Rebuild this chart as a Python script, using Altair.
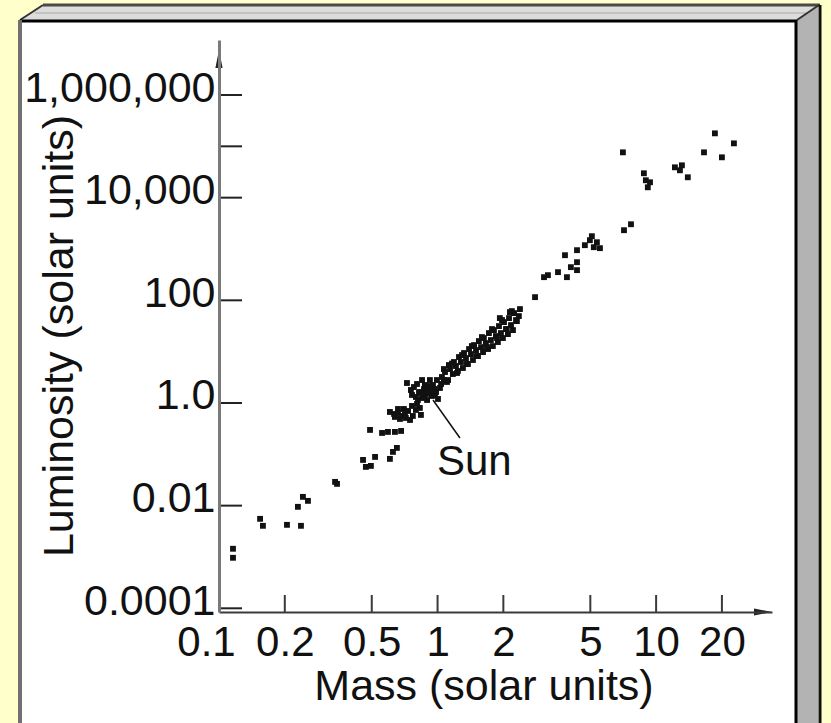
import altair as alt
import pandas as pd

FONT = "Liberation Sans"

# ---- star data: log10 mass (solar masses) and log10 luminosity (solar luminosities)
low_logm = [-0.936, -0.936, -0.812, -0.799, -0.689, -0.625, -0.639, -0.616, -0.593,
            -0.469, -0.460, -0.341, -0.328, -0.305, -0.286, -0.218, -0.204, -0.186,
            -0.309, -0.254, -0.227, -0.195, -0.167]
low_logl = [-2.840, -3.016, -2.257, -2.393, -2.374, -2.393, -2.023, -1.829, -1.907,
            -1.537, -1.576, -1.109, -1.245, -1.226, -1.051, -1.089, -0.953, -0.875,
            -0.525, -0.584, -0.564, -0.564, -0.545]

kdwarf_logm = [-0.218, -0.199, -0.181, -0.163, -0.145, -0.126, -0.113, -0.135, -0.099,
               -0.081, -0.181, -0.154, -0.076,
               -0.195, -0.172, -0.149, -0.117, -0.094]
kdwarf_logl = [-0.175, -0.214, -0.195, -0.253, -0.292, -0.331, -0.253, -0.156, -0.136,
               -0.097, -0.117, -0.117, -0.233,
               -0.272, -0.311, -0.195, -0.058, -0.019]

solar_logm = [-0.140, -0.122, -0.099, -0.081, -0.062, -0.044, -0.026, -0.007, -0.048,
              -0.021, 0.002, -0.058, -0.108, 0.011, -0.035, -0.003,
              -0.090, -0.071, -0.053, -0.035, -0.016, -0.035, -0.062, -0.085, -0.117,
              -0.012, 0.016, 0.029, -0.071, -0.094]
solar_logl = [0.389, 0.253, 0.117, 0.214, 0.156, 0.272, 0.136, 0.214, 0.058,
              0.350, 0.078, 0.350, 0.311, 0.292, 0.447, 0.447,
              0.058, 0.097, 0.175, 0.214, 0.272, 0.331, 0.272, 0.195, 0.156,
              0.156, 0.370, 0.447, 0.447, 0.370]

band_logm = [0.020, 0.034, 0.048, 0.057, 0.070, 0.084, 0.093, 0.107, 0.116, 0.130,
             0.139, 0.153, 0.162, 0.176, 0.185, 0.199, 0.208, 0.221, 0.231, 0.244,
             0.253, 0.267, 0.276, 0.290, 0.299, 0.313, 0.322, 0.336, 0.345, 0.359,
             0.372, 0.350, 0.327, 0.304, 0.281, 0.258, 0.235, 0.212, 0.189, 0.167,
             0.144, 0.121, 0.098, 0.075, 0.052, 0.029, 0.377, 0.331, 0.285,
             0.043, 0.089, 0.134, 0.180, 0.226, 0.272, 0.317, 0.363,
             0.066, 0.112, 0.157, 0.203, 0.249, 0.295, 0.340]
band_logl = [0.506, 0.603, 0.447, 0.661, 0.564, 0.720, 0.623, 0.798, 0.681, 0.875,
             0.759, 0.953, 0.837, 1.031, 0.914, 1.089, 0.992, 1.167, 1.051, 1.226,
             1.109, 1.304, 1.187, 1.362, 1.265, 1.440, 1.342, 1.518, 1.420, 1.615,
             1.693, 1.751, 1.654, 1.576, 1.498, 1.420, 1.362, 1.265, 1.206, 1.128,
             1.051, 0.973, 0.895, 0.798, 0.739, 0.661, 1.829, 1.770, 1.654,
             0.409, 0.584, 0.759, 0.914, 1.089, 1.265, 1.440, 1.595,
             0.768, 0.934, 1.109, 1.284, 1.440, 1.615, 1.790]

bright_logm = [0.446, 0.487, 0.505, 0.551, 0.583, 0.592, 0.610, 0.638, 0.638, 0.638,
               0.674, 0.697, 0.715, 0.743, 0.729, 0.706, 0.853, 0.885]
bright_logl = [2.062, 2.451, 2.490, 2.549, 2.879, 2.451, 2.646, 2.743, 2.588, 2.977,
               3.074, 3.171, 3.035, 3.016, 3.132, 3.249, 3.366, 3.482]

massive_logm = [0.848, 0.944, 0.953, 0.962, 0.972, 1.086, 1.118, 1.109, 1.145,
                1.269, 1.356, 1.219, 1.301]
massive_logl = [4.883, 4.475, 4.339, 4.202, 4.300, 4.591, 4.630, 4.533, 4.397,
                5.253, 5.058, 4.883, 4.786]

# ---- axis values and labels
x_label_values = [0.1, 0.2, 0.5, 1, 2, 5, 10, 20]
x_tick_values = [0.2, 0.5, 1, 2, 5, 10, 20]
y_label_values = [0.0001, 0.01, 1, 100, 10000, 1000000]
y_tick_values = [0.0001, 0.01, 1, 100, 10000, 100000, 1000000]

# the Sun annotation: label anchor and pointer segment
sun_label = {"mass": [0.994], "lum": [0.0395], "text": ["Sun"]}
sun_pointer = {"m1": [0.953], "l1": [1.14], "m2": [1.266], "l2": [0.208]}

logm = low_logm + kdwarf_logm + solar_logm + band_logm + bright_logm + massive_logm
logl = low_logl + kdwarf_logl + solar_logl + band_logl + bright_logl + massive_logl
stars = pd.DataFrame({"mass": [10 ** v for v in logm], "lum": [10 ** v for v in logl]})

W, H = 553, 572

xs = alt.Scale(type="log", domain=[0.1, 33.9], nice=False)
ys = alt.Scale(type="log", domain=[8.47e-5, 1.179e7], nice=False)

ax_x = alt.Axis(
    values=x_label_values, format="~g", title=None, grid=False, ticks=False, tickSize=0,
    domainColor="#3a3a3a", domainWidth=2, labelFont=FONT, labelFontSize=42,
    labelColor="#111111", labelPadding=10, labelFlush=False, labelOverlap=False,
    labelLimit=400,
    labelOffset={"condition": {"test": "datum.value < 0.15", "value": -13}, "value": 0},
    zindex=1,
)
ax_y = alt.Axis(
    values=y_label_values, title=None, grid=False, ticks=False, tickSize=0,
    labelExpr="datum.value >= 100 ? format(datum.value, ',d') : "
              "(datum.value == 1 ? '1.0' : format(datum.value, '~g'))",
    domainColor="#7a7a7a", domainWidth=3, labelFont=FONT, labelFontSize=43,
    labelColor="#111111", labelPadding=4, labelBaseline="middle", labelOffset=-7,
    labelFlush=False, labelOverlap=False, labelLimit=400, zindex=1,
)


def X(field):
    return alt.X(field, type="quantitative", scale=xs, axis=ax_x)


def Y(field):
    return alt.Y(field, type="quantitative", scale=ys, axis=ax_y)


blank = pd.DataFrame({"k": [0]})

# ---- framed 3-D panel behind the plot
panel = alt.Chart(blank).mark_rect(fill="#FFFFFF").encode(
    x=alt.value(-199), x2=alt.value(578), y=alt.value(-20), y2=alt.value(700))
side_face = alt.Chart(blank).mark_point(
    shape="M578,-20L599,-35L599,700L578,700Z", size=4, filled=True,
    fill="#b3b3b3", strokeWidth=0, opacity=1).encode(x=alt.value(0), y=alt.value(0))
top_face = alt.Chart(blank).mark_point(
    shape="M-199,-20L-176,-35L601,-35L578,-20Z", size=4, filled=True,
    fill="#dcdcdc", strokeWidth=0, opacity=1).encode(x=alt.value(0), y=alt.value(0))
top_stripe = alt.Chart(blank).mark_rule(color="#c2c2c2", strokeWidth=2).encode(
    x=alt.value(-184), x2=alt.value(590), y=alt.value(-27))
top_edge = alt.Chart(blank).mark_rule(color="#4a4a4a", strokeWidth=3).encode(
    x=alt.value(-176), x2=alt.value(601), y=alt.value(-35))
left_diag = alt.Chart(blank).mark_rule(color="#333333", strokeWidth=2).encode(
    x=alt.value(-199), x2=alt.value(-176), y=alt.value(-20), y2=alt.value(-35))
right_diag = alt.Chart(blank).mark_rule(color="#333333", strokeWidth=2).encode(
    x=alt.value(578), x2=alt.value(600), y=alt.value(-20), y2=alt.value(-35))
top_line = alt.Chart(blank).mark_rule(color="#000000", strokeWidth=3).encode(
    x=alt.value(-199), x2=alt.value(578), y=alt.value(-19))
left_line = alt.Chart(blank).mark_rule(color="#707070", strokeWidth=4).encode(
    x=alt.value(-199), y=alt.value(-20), y2=alt.value(700))
right_inner = alt.Chart(blank).mark_rule(color="#000000", strokeWidth=3).encode(
    x=alt.value(577), y=alt.value(-20), y2=alt.value(700))
right_outer = alt.Chart(blank).mark_rule(color="#111111", strokeWidth=3).encode(
    x=alt.value(601), y=alt.value(-35), y2=alt.value(700))

# ---- inward tick marks and axis arrows
xticks = alt.Chart(pd.DataFrame({"v": x_tick_values})).mark_rule(
    color="#3a3a3a", strokeWidth=2).encode(x=X("v"), y=alt.value(H - 17), y2=alt.value(H))
yticks = alt.Chart(pd.DataFrame({"v": y_tick_values})).mark_rule(
    color="#222222", strokeWidth=2).encode(y=Y("v"), x=alt.value(0), x2=alt.value(23))
y_arrow = alt.Chart(blank).mark_point(
    shape="M0,-1L0.4,1L-0.4,1Z", size=324, filled=True, color="#222222",
    opacity=1).encode(x=alt.value(0), y=alt.value(19))
x_arrow = alt.Chart(blank).mark_point(
    shape="M1,0L-1,-0.4L-1,0.4Z", size=324, filled=True, color="#222222",
    opacity=1).encode(x=alt.value(W - 9), y=alt.value(H))

# ---- stars
points = alt.Chart(stars).mark_square(size=34, color="#111111", opacity=1).encode(
    x=X("mass"), y=Y("lum"))

pointer = alt.Chart(pd.DataFrame(sun_pointer)).mark_rule(
    color="#111111", strokeWidth=1.5).encode(
    x=X("m1"), y=Y("l1"), x2=alt.X2("m2"), y2=alt.Y2("l2"))
sun_text = alt.Chart(pd.DataFrame(sun_label)).mark_text(
    font=FONT, fontSize=42, align="left", baseline="alphabetic", color="#111111").encode(
    x=X("mass"), y=Y("lum"), text="text:N")

x_title = alt.Chart(blank).mark_text(
    text="Mass (solar units)", font=FONT, fontSize=43, align="center",
    baseline="alphabetic", color="#111111").encode(x=alt.value(265), y=alt.value(660))
y_title = alt.Chart(blank).mark_text(
    text="Luminosity (solar units)", font=FONT, fontSize=43, align="center",
    baseline="alphabetic", angle=270, color="#111111").encode(
    x=alt.value(-146), y=alt.value(296))

chart = alt.layer(
    panel, side_face, top_face, top_stripe, top_edge, left_diag, right_diag,
    top_line, left_line, right_inner, right_outer,
    xticks, yticks, y_arrow, x_arrow, points, pointer, sun_text, x_title, y_title,
).properties(
    width=W, height=H,
    padding={"left": 219, "top": 40, "right": 59, "bottom": 111},
    autosize=alt.AutoSizeParams(type="none"),
    background="#FFFFCC",
).configure_view(strokeWidth=0)

chart.save("out.html", embed_options={"renderer": "svg", "actions": False})
